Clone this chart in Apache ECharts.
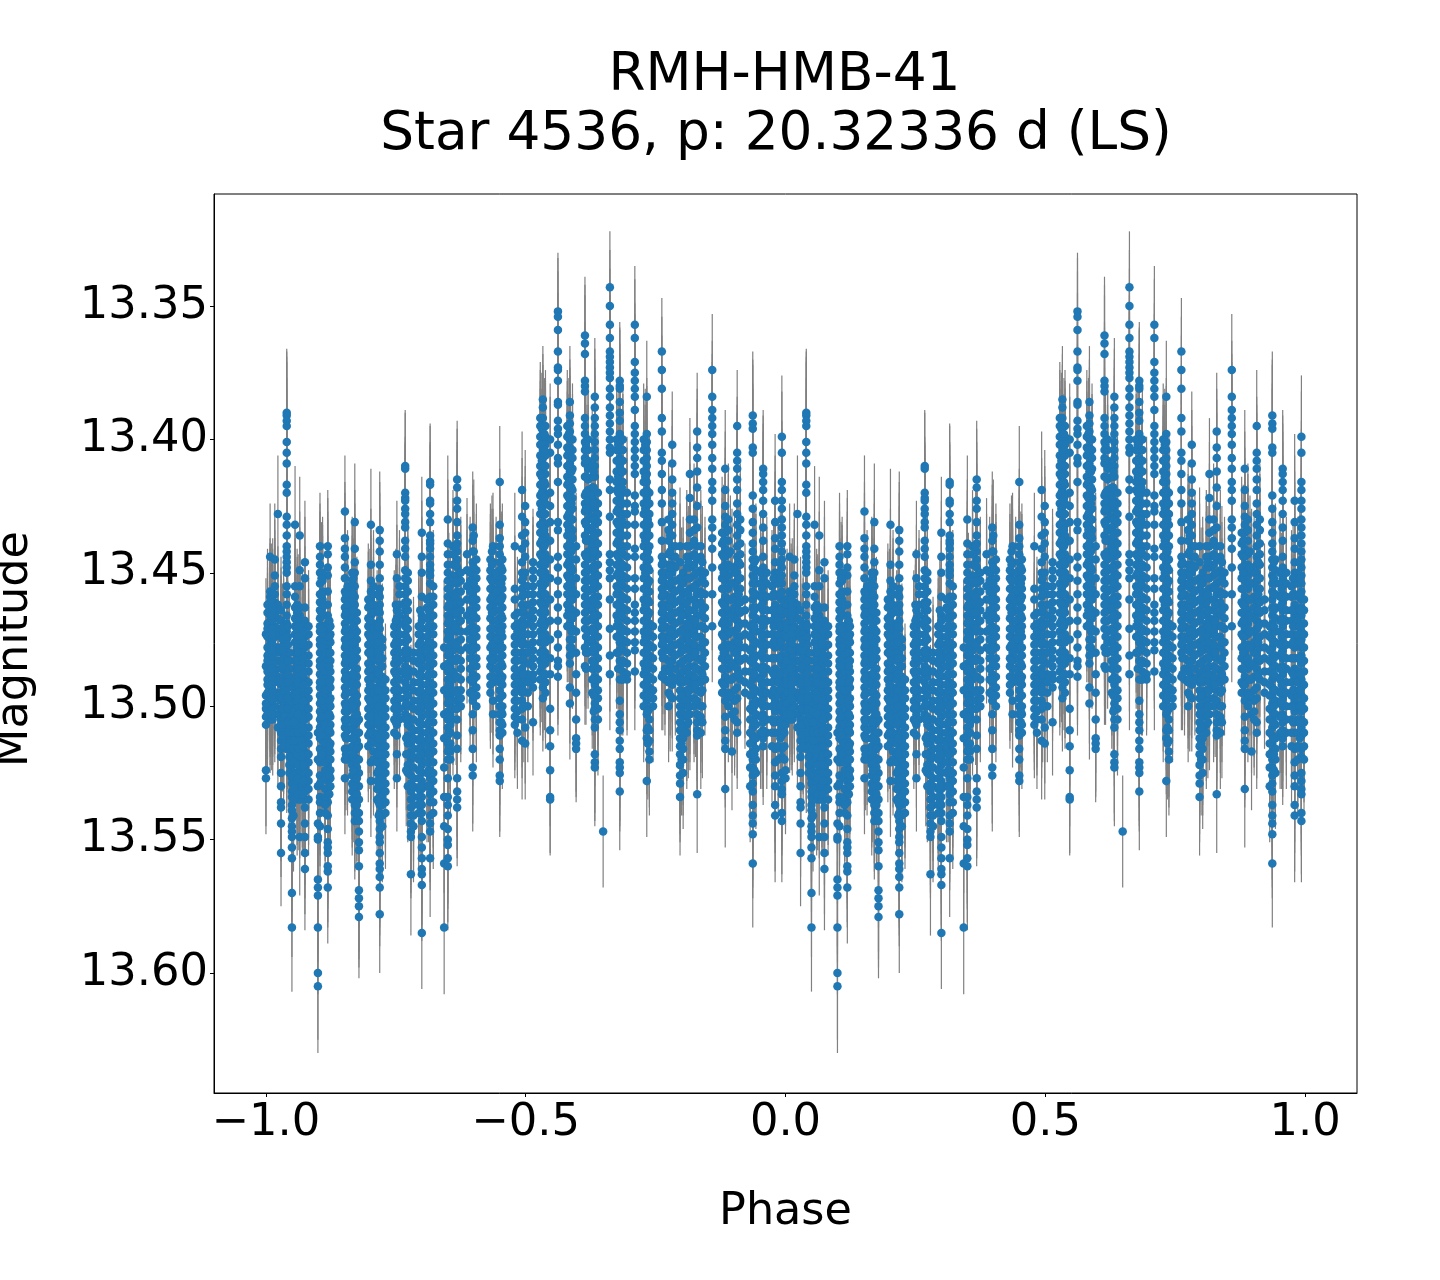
<!DOCTYPE html>
<html>
<head>
<meta charset="utf-8">
<style>html,body{margin:0;padding:0;background:#fff}#c{width:1440px;height:1280px}</style>
<script src="https://cdn.jsdelivr.net/npm/echarts@6/dist/echarts.min.js"></script>
</head>
<body>
<div id="c"></div>
<script>
// Values. Magnitudes are in thousandths above 13 (e.g. 473 = 13.473).
// The figure shows two folded cycles, so phase p and p + 1 carry the same measurement.
const titleLine1 = "RMH-HMB-41";
const titleLine2 = "Star 4536, p: 20.32336 d (LS)";
const xTickValues = [-1, -0.5, 0, 0.5, 1];
const yTickValues = [13.35, 13.40, 13.45, 13.50, 13.55, 13.60];

const streakPhases = [-1.000,-0.992,-0.983,-0.977,-0.971,-0.960,-0.950,-0.944,-0.935,-0.925,-0.900,-0.896,-0.881,-0.848,-0.829,-0.821,-0.798,-0.781,-0.748,-0.732,-0.721,-0.700,-0.684,-0.657,-0.650,-0.632,-0.613,-0.602,-0.563,-0.550,-0.521,-0.507,-0.501,-0.486,-0.467,-0.453,-0.438,-0.415,-0.403,-0.386,-0.367,-0.351,-0.338,-0.319,-0.290,-0.267,-0.238,-0.218,-0.203,-0.184,-0.170,-0.141,-0.116,-0.103,-0.093,-0.063,-0.043,-0.020,-0.007];
const streakErrors = [21,20,21,22,20,24,24,22,22,23,25,20,21,21,22,23,21,22,20,21,23,21,22,25,24,22,21,21,20,21,20,22,21,20,20,21,22,21,20,22,22,21,21,22,22,21,20,20,22,21,22,21,22,22,21,24,22,25,23];

const m001 = [473,485,496,499,501,504,507,524,527];
const m002 = [444,457,459,461,463,466,468,470,473,475,477,480,482,485,487,489,492,494,497,499,502,505];
const m003 = [445,451,455,458,461,464,466,470,472,474,478,480,483,486,488,491,495,497,500];
const m004 = [428,462,467,473,478,483,489,495,503,508];
const m005 = [464,468,471,474,478,480,483,486,490,492,495,498,501,505,507,510,513,516,519,525,530,536,538,544,555];
const m006 = [390,391,393,395,401,405,409,417,420,429,432,436,440,442,444,446,448,450,455,458,462,466,469,472,475,479,481,484,488,490,493,496,500,502,505,508,511,514,516];
const m007 = [500,504,508,511,514,517,519,522,524,527,529,532,534,537,539,542,545,547,549,553,557,570,583];
const m008 = [432,455,459,463,467,470,473,476,480,483,486,489,492,495,498];
const m009 = [436,449,455,463,466,469,472,476,478,481,484,488,490,493,496,499,502,505,509,511,514,517,520,524,526,529,532,535,549];
const m010 = [446,452,463,468,474,478,481,484,487,490,494,496,499,502,505,508,512,514,517,520,523,527,529,532,535,538,544,549,555,561];
const m011 = [510,520,530,544,549,550,565,568,571,583,600,605];
const m012 = [440,444,447,450,454,458,461,464,467,470,472,475,477,480,483,485,488,491,493,496,499,502,505,508,512,516,521,526,529,534,536,540,545];
const m013 = [440,443,448,451,457,462,466,469,472,475,478,481,484,486,489,492,495,498,501,504,507,510,513,516,519,522,525,528,532,536,541,546,551,553,555,560,562,568];
const m014 = [427,437,441,444,448,452,457,460,463,466,469,472,475,478,481,484,487,490,493,496,499,502,505,508,511,516,520,527];
const m015 = [431,441,446,450,455,459,462,465,468,471,474,477,480,483,486,489,492,495,498,501,504,507,510,513,516,519,522,525,528,531,534,537,540,543];
const m016 = [505,510,515,520,525,530,535,540,543,547,551,554,560,569,572,575,579];
const m017 = [432,447,453,457,460,463,466,469,472,475,478,481,484,487,490,493,496,499,502,505,508,514,521,528];
const m018 = [434,438,442,447,452,456,459,462,465,468,471,474,477,480,483,486,489,492,495,498,501,504,507,510,513,516,519,522,525,528,531,534,537,540,543,546,549,551,555,559,561,564,568,578];
const m019 = [443,452,464,467,471,475,478,481,484,487,490,493,496,499,503,507,511,518,527];
const m020 = [410,411,420,422,423,426,428,431,433,438,441,444,449,452,455,458,461,464,467,470,473,476,479,482,485,488,491,494,497,500,503];
const m021 = [500,505,508,511,514,517,520,523,526,529,532,535,538,541,544,547,549,563];
const m022 = [435,444,450,459,466,468,471,474,477,480,483,486,489,492,495,498,501,504,507,510,513,516,519,522,525,528,531,534,537,540,543,549,553,557,561,563,567,585];
const m023 = [416,417,423,424,428,431,436,438,439,441,444,447,449,451,454,459,463,467,470,473,476,479,482,485,488,491,494,497,500,503,506,509,512,515,518,521,524,527,530,533,536,541,544,547,557];
const m024 = [478,485,494,503,512,523,534,545,559,583];
const m025 = [430,439,443,447,450,453,456,459,463,466,469,472,475,478,481,484,487,490,493,496,499,502,505,508,511,514,517,520,527,534,537,541,546,550,552,557,560];
const m026 = [415,418,423,426,431,436,439,442,445,448,451,454,457,460,463,466,469,472,476,482,489,494,498,501,505,511,516,527,532,535,538];
const m027 = [443,449,455,460,466,472,478];
const m028 = [433,438,442,446,449,452,455,458,461,464,467,470,473,476,479,482,485,488,491,494,496,498,503,509,516,523,526];
const m029 = [440,446,450,453,456,459,462,465,468,471,474,477,480,483,486,489,491,498,503];
const m030 = [416,432,437,440,443,446,449,452,455,458,461,464,467,470,473,476,479,482,485,488,491,494,497,500,503,506,509,511,516,520,526,528];
const m031 = [440,456,460,466,470,474,477,480,483,486,489,492,495,498,501,504,507];
const m032 = [419,429,436,441,446,450,453,456,459,462,465,468,471,474,477,480,483,486,489,492,495,498,501,505,513];
const m033 = [425,431,435,439,444,450,455,480,490,500,508,514];
const m034 = [446,449,452,455,458,461,464,467,470,473,476,479,482,485,488,490,493,506];
const m035 = [385,388,392,395,398,401,404,407,410,413,416,419,422,425,428,431,434,437,440,443,446,449,452,455,458,461,464,467,470,473,476,479,482,490,493,497];
const m036 = [400,405,420,425,431,438,445,452,460,468,475,482,488,501,509,515,524,534,535];
const m037 = [352,354,359,367,373,374,378,386,387,393,396,398,402,407,409,416,431,434,444,448,453,458,463,468,473,478,483,485,489];
const m038 = [386,391,394,397,400,403,406,409,412,415,418,421,424,427,430,433,436,439,442,445,448,451,454,457,460,463,466,469,475,478,481,484,493,499];
const m039 = [440,445,452,458,465,472,480,488,495,505,512,514,516];
const m040 = [361,364,368,378,380,382,392,395,398,401,404,407,409,414,421,424,427,431,436,443,447,450,453,456,459,462,465,468,471,478,485];
const m041 = [384,388,392,395,398,401,404,407,410,414,420,423,426,429,432,435,438,441,444,447,450,453,456,459,462,465,468,471,474,477,480,483,486,489,492,495,499,501,505,508,518,521,523];
const m042 = [547];
const m043 = [343,350,357,362,367,369,371,373,375,377,381,384,388,391,394,397,400,403,405,415,419,429,443,446,449,452,460,471,481,488];
const m044 = [378,380,381,386,390,393,398,401,404,407,410,413,416,419,422,425,428,431,434,437,440,443,446,449,452,455,458,461,464,467,470,473,476,479,483,490,498,503,506,509,513,516,521,523,525,532];
const m045 = [357,362,371,375,378,381,384,389,395,398,401,404,407,410,413,421,425,427,432,441,444,452,456,462,465,468,472,476,479,487];
const m046 = [384,398,401,404,407,410,413,416,419,422,425,428,431,434,437,440,443,446,449,452,455,458,461,464,467,470,473,476,479,482,485,488,491,494,497,498,503,509,512,528];
const m047 = [367,374,381,392,397,405,408,413,419,424,431,438,444,447,450,453,456,459,462,465,468,471,474,477,480,489];
const m048 = [402,409,415,420,424,428,432,436,440,444,447,450,453,456,459,462,465,468,471,474,477,480,483,486,489,492,497];
const m049 = [440,446,452,456,460,464,468,472,476,480,484,488,491,494,497,500,503,506,509,512,515,518,522,526,529,534];
const m050 = [413,422,430,435,440,444,448,452,456,460,464,467,470,473,476,479,482,485,488,491,494,497,500,503];
const m051 = [397,403,407,412,418,425,433,440,445,450,454,458,462,466,470,474,478,482,486,490,494,498,503,506,509,511,533];
const m052 = [374,384,389,392,395,398,402,407,411,416,419,423,430,433,437,441,448,458,470];
const m053 = [411,419,425,429,432,435,438,441,444,447,450,453,456,459,462,465,468,471,474,477,480,483,486,489,492,495,498,504,509,513,516,531];
const m054 = [448,454,460,466,472,478,484,490,497,503,517];
const m055 = [395,405,408,411,415,419,424,428,432,436,440,444,447,450,453,456,459,462,465,468,471,474,477,480,483,486,493,497,506,510];
const m056 = [391,394,396,403,405,421,426,431,435,439,442,445,448,451,454,457,460,463,466,469,472,475,478,481,484,487,490,493,496,499,502,505,508,511,514,517,520,523,526,529,532,537,541,544,548,559];
const m057 = [411,413,416,419,423,428,433,438,444,448,452,455,458,461,464,467,470,473,476,479,482,485,488,491,494,497,500,503,506,509,512,515];
const m058 = [423,431,437,441,446,450,454,458,462,466,470,474,478,482,486,490,494,498,502,506,510,516,521,526,530,537,541];
const m059 = [399,405,416,419,423,426,430,433,436,439,442,445,448,451,454,457,460,463,466,469,472,475,478,481,484,487,490,493,496,499,502,505,508,511,516,519,525,528,531,533,540,543];

const streakValues = [m001,m002,m003,m004,m005,m006,m007,m008,m009,m010,m011,m012,m013,m014,m015,m016,m017,m018,m019,m020,m021,m022,m023,m024,m025,m026,m027,m028,m029,m030,m031,m032,m033,m034,m035,m036,m037,m038,m039,m040,m041,m042,m043,m044,m045,m046,m047,m048,m049,m050,m051,m052,m053,m054,m055,m056,m057,m058,m059];

// Denser points between the main streaks, estimated from the filled bands of the picture.
const bandPhases = [-0.997,-0.987,-0.966,-0.955,-0.940,-0.930,-0.918,-0.891,-0.886,-0.876,-0.843,-0.834,-0.825,-0.803,-0.793,-0.786,-0.776,-0.770,-0.753,-0.743,-0.727,-0.716,-0.706,-0.690,-0.678,-0.645,-0.640,-0.625,-0.607,-0.595,-0.568,-0.557,-0.545,-0.516,-0.496,-0.472,-0.462,-0.420,-0.410,-0.380,-0.372,-0.361,-0.325,-0.313,-0.305,-0.273,-0.262,-0.255,-0.232,-0.225,-0.212,-0.197,-0.190,-0.176,-0.163,-0.155,-0.122,-0.110,-0.098,-0.087,-0.078,-0.068,-0.057,-0.048,-0.036,-0.026,-0.014,-0.002];
const bandError = [21];
const b01 = [462,465,469,471,474,478,481,483,487,490,492,495,499,503];
const b02 = [458,462,464,468,471,475,477,481,484,488,490,494,498,501,505];
const b03 = [470,473,477,480,482,486,489,493,495,499,502,505,509,512,515];
const b04 = [480,483,486,490,493,496,499,503,506,509,512,515,519,522,525];
const b05 = [462,465,468,472,475,478,482,485,488,492,495,498,501,505,508,511,515,518,521,525,528,531,535];
const b06 = [470,474,477,480,484,487,490,493,497,500,503,507,510,513,517,520,523,526,530,532,535];
const b07 = [470,473,477,481,484,487,491,494,497,501,504,508,511,514,518,521,525,528,531,535];
const b08 = [450,453,457,460,463,466,470,473,476,480,483,486,489,493,496,499,503,506,509,513,516,520];
const b09 = [470,473,477,480,484,487,490,494,497,500,504,507,511,514,517,521,524,527,531,534,537,540];
const b10 = [470,473,476,480,483,487,490,493,497,500,504,507,510,514,517,520,524,527,530];
const b11 = [455,458,462,465,468,472,475,479,482,485,489,492,495,499,502,505,509,512,516,520];
const b12 = [450,453,457,460,464,467,471,474,478,481,484,488,491,495,498,501,505,508,512,515,519,522,526,529,532,535];
const b13 = [465,468,472,475,479,482,486,489,492,496,499,503,506,510,513,516,520,523,527,530,533,537,540];
const b14 = [460,463,467,470,473,477,480,484,487,490,494,497,501,504,507,511,515];
const b15 = [455,458,462,465,469,472,475,479,482,486,489,493,496,499,503,506,510,513,517,520];
const b16 = [470,473,477,480,483,487,490,494,497,501,504,507,511,514,518,521,525,528,531,535];
const b17 = [475,478,482,485,489,492,496,499,503,506,510,513,516,520,523,527,530,534,537,541,545];
const b18 = [490,494,497,501,504,508,511,515,518,522,525,529,532,536,540];
const b19 = [470,473,477,480,484,487,491,494,498,501,505,510];
const b20 = [455,458,462,466,469,473,476,480,483,487,490,494,497,501,505];
const b21 = [450,453,457,461,464,468,471,475,479,482,486,489,493,496,500,504,507,511,514,518,522,525,530];
const b22 = [480,483,487,491,494,498,501,505,509,512,516,519,523,527,530,534,537,541,545];
const b23 = [470,473,477,480,484,488,491,495,498,502,506,509,513,516,520,524,527,531,534,537,540];
const b24 = [460,463,467,471,474,478,481,485,489,492,496,499,503,507,510,514,517,521,525,530];
const b25 = [455,459,462,466,470,473,477,481,484,488,492,495,499,503,506,510,514,517,521,525,528,532,536,540];
const b26 = [460,463,467,470,474,478,481,485,489,492,496,499,503,507,510,514,517,520];
const b27 = [440,443,447,451,454,458,461,465,469,472,476,479,483,487,490,494,498,501,505];
const b28 = [450,453,457,461,464,468,472,475,479,483,486,490,494,497,500];
const b29 = [450,453,457,460,464,468,471,475,479,482,486,490,495];
const b30 = [445,449,452,456,460,463,467,471,474,478,482,485,489,493,496,500];
const b31 = [445,449,452,456,460,463,467,471,474,478,482,485,489,492,495];
const b32 = [450,453,457,460,464,468,471,475,478,482,486,490];
const b33 = [445,449,452,456,459,463,467,470,474,478,481,485,489,492,496,500,503,507,510];
const b34 = [465,469,472,476,480,483,487,491,494,498,502,505,510];
const b35 = [455,458,462,466,469,473,477,480,484,488,491,495,500];
const b36 = [392,395,399,402,406,410,413,417,421,424,428,432,435,439,443,447,450,454,458,461,465,469,472,476,480,483,487,490];
const b37 = [395,399,402,406,410,413,417,421,424,428,432,436,439,443,447,450,454,458,462,465,469,473,476,480,484,488,491,495];
const b38 = [395,399,403,406,410,414,417,421,425,429,432,436,440,443,447,451,455,458,462,466,470];
const b39 = [400,404,407,411,415,419,422,426,430,434,437,441,445,449,452,456,460,464,467,471,475,480];
const b40 = [400,404,408,411,415,419,423,427,430,434,438,442,445,449,453,457,461,464,468,472,476,480];
const b41 = [410,414,418,421,425,429,433,437,440,444,448,452,456,460,463,467,471,475,479,483,486,490,495];
const b42 = [420,424,428,431,435,439,443,447,451,455,459,462,466,470,474,478,482,486,490,494,497,501,505];
const b43 = [400,404,408,412,416,419,423,427,431,435,439,443,447,451,455,458,462,466,470,474,480];
const b44 = [400,404,408,412,416,420,424,428,432,436,440,443,447,451,455,459,463,467,471,475,479,483,487,490];
const b45 = [420,424,428,432,436,440,444,448,452,456,460,464,468,472,476,480,484,488,490];
const b46 = [400,404,408,412,416,420,424,428,432,436,440,444,448,452,456,460,464,468,472,476,480,484,488,492,496,500];
const b47 = [420,424,428,432,436,440,445,449,453,457,461,465,469,473,477,481,485,489,493,497,501,505,509,513,517,520];
const b48 = [470,474,478,482,486,490,494,497,500];
const b49 = [450,454,458,462,466,470,474,478,482,486,490];
const b50 = [430,434,438,443,447,451,455,459,463,467,471,475,479,483,487,491,495,500];
const b51 = [440,444,448,453,457,461,465,469,473,477,481,486,490];
const b52 = [450,454,458,462,466,471,475,479,483,487,491,496,500,504,508,512,516,520,525];
const b53 = [440,444,448,452,457,461,465,469,473,478,482,486,490,494,498,503,507,510];
const b54 = [430,434,438,443,447,451,455,460,464,468,472,477,481,485,489,493,497,500];
const b55 = [440,444,449,453,457,461,466,470,474,478,483,487,491,495,500,504,510];
const b56 = [450,454,458,463,467,471,476,480,485,490];
const b57 = [435,439,443,448,452,456,461,465,469,473,478,482,486,491,495];
const b58 = [430,434,438,443,447,451,456,460,464,469,473,477,482,486,490,495,500];
const b59 = [450,454,459,463,467,472,476,480,485,489,494,498,502,505];
const b60 = [430,434,439,443,447,452,456,461,465,469,474,478,483,490];
const b61 = [460,464,469,473,478,482,487,491,495];
const b62 = [470,474,479,483,487,492,496,501,505,510,514,518,523,530];
const b63 = [445,449,454,458,463,467,472,476,481,485,489,494,498,503,507,512,516,520,525];
const b64 = [450,454,459,463,468,472,477,481,486,490,495,499,504,510];
const b65 = [450,454,459,464,468,473,477,482,486,491,495,500,505,510];
const b66 = [455,459,464,468,473,477,482,487,491,496,500,505,510,515];
const b67 = [450,454,459,464,468,473,477,482,487,491,496,500,505,510,515,520];
const b68 = [460,464,469,473,478,483,487,492,497,501,506,510,515,520];

const bandValues = [b01,b02,b03,b04,b05,b06,b07,b08,b09,b10,b11,b12,b13,b14,b15,b16,b17,b18,b19,b20,b21,b22,b23,b24,b25,b26,b27,b28,b29,b30,b31,b32,b33,b34,b35,b36,b37,b38,b39,b40,b41,b42,b43,b44,b45,b46,b47,b48,b49,b50,b51,b52,b53,b54,b55,b56,b57,b58,b59,b60,b61,b62,b63,b64,b65,b66,b67,b68];

// More estimated points in the solid parts of the streaks.
const corePhases = [-0.989,-0.968,-0.958,-0.947,-0.938,-0.928,-0.893,-0.878,-0.846,-0.832,-0.800,-0.783,-0.750,-0.730,-0.703,-0.687,-0.648,-0.634,-0.600,-0.565,-0.547,-0.505,-0.469,-0.464,-0.417,-0.412,-0.384,-0.369,-0.322,-0.315,-0.270,-0.265,-0.236,-0.222,-0.200,-0.187,-0.173,-0.160,-0.119,-0.106,-0.090,-0.060,-0.045,-0.023,-0.010];
const c01 = [460,466,473,479,486,492,497,503];
const c02 = [475,479,485,491,497,501,507,511];
const c03 = [470,474,477,483,488,491,497,501,506,510];
const c04 = [502,506,510,513,516,521,526,531,535,541];
const c05 = [464,470,474,480,486,491,497,503,510,516,522,527,533];
const c06 = [472,476,482,488,492,498,505,509,515,522,528,533];
const c07 = [452,458,465,471,478,485,491,498,504,511,518];
const c08 = [468,474,480,485,491,498,503,509,515,520,526,533];
const c09 = [458,465,471,477,483,489,495,500,506,512,518];
const c10 = [452,458,464,470,476,482,488,494,500,506,512,518,524,530];
const c11 = [462,468,474,480,486,492,498,504,510];
const c12 = [458,464,470,476,482,488,494,500,506,512,518,524,530,536,541];
const c13 = [462,468,476,482,488,494,500,506];
const c14 = [462,468,474,480,487,493,499,505,512,518,524];
const c15 = [464,470,476,482,488,494,500,506,512,518,524,530,536];
const c16 = [464,470,476,482,488,494,500,506,512,518,524,530];
const c17 = [456,462,468,474,480,486,492,498,504,510,516];
const c18 = [440,447,453,459,465,471,477,483,489,495,501];
const c19 = [436,442,448,454,460,466,472,478,484,490,496];
const c20 = [442,447,453,459,465,471,477,483,489];
const c21 = [448,454,460,466,472,478,484,490,496,502,506];
const c22 = [452,458,464,470,476,482,488,494,500];
const c23 = [396,402,408,414,420,426,432,438,444,450,456,462,468,474,480,485];
const c24 = [398,404,410,416,422,428,434,440,446,452,458,464,470,476,482,488];
const c25 = [398,404,410,416,422,428,434,440,446,452,458,464,470];
const c26 = [412,418,424,430,436,442,448,454,460,466,472,478];
const c27 = [402,408,414,420,426,432,438,444,450,456,462,468,474,480,486];
const c28 = [412,418,424,430,436,442,448,454,460,466,472,478,484,490,496,502];
const c29 = [402,408,414,420,426,432,438,444,450,456,462,468,474,480,486];
const c30 = [412,418,424,430,436,442,448,454,460,466,472,478,484,490];
const c31 = [402,408,414,420,426,432,438,444,450,456,462,468,474,480,486,492];
const c32 = [424,430,436,442,448,454,460,466,472,478,484,490,496,502,508,514];
const c33 = [446,452,458,464,470,476,482,488];
const c34 = [436,442,448,454,460,466,472,478,484,490,496];
const c35 = [454,460,466,472,478,484,490,496,502,508,514,520];
const c36 = [446,452,458,464,470,476,482,488,494,500,506];
const c37 = [444,450,456,462,468,474,480,486,492,498];
const c38 = [446,452,458,464,470,476,482,488,494,500,506];
const c39 = [438,444,450,456,462,468,474,480,486,492];
const c40 = [442,448,454,460,466,472,478,484,490,496];
const c41 = [446,452,458,464,470,476,482,488];
const c42 = [446,452,458,464,470,476,482,488,494,500,506,512,518,524];
const c43 = [456,462,468,474,480,486,492,498,504,510];
const c44 = [452,458,464,470,476,482,488,494,500,506];
const c45 = [446,452,458,464,470,476,482,488,494,500,506,512];

const coreValues = [c01,c02,c03,c04,c05,c06,c07,c08,c09,c10,c11,c12,c13,c14,c15,c16,c17,c18,c19,c20,c21,c22,c23,c24,c25,c26,c27,c28,c29,c30,c31,c32,c33,c34,c35,c36,c37,c38,c39,c40,c41,c42,c43,c44,c45];

const rows = [];
[0, 1].forEach(function (cycle) {
  streakValues.forEach(function (list, i) {
    list.forEach(function (m) {
      rows.push([streakPhases[i] + cycle, 13 + m / 1000, streakErrors[i] / 1000]);
    });
  });
  bandValues.forEach(function (list, i) {
    list.forEach(function (m) {
      rows.push([bandPhases[i] + cycle, 13 + m / 1000, bandError[0] / 1000]);
    });
  });
  coreValues.forEach(function (list, i) {
    list.forEach(function (m) {
      rows.push([corePhases[i] + cycle, 13 + m / 1000, bandError[0] / 1000]);
    });
  });
});

const chart = echarts.init(document.getElementById('c'), null, { renderer: 'canvas' });
const font = '"DejaVu Sans"';
chart.setOption({
  animation: false,
  backgroundColor: '#ffffff',
  title: [
    { text: titleLine1, left: 779.5, top: 45, textAlign: 'center', textStyle: { fontFamily: font, fontSize: 53.3, fontWeight: 'normal', color: '#000' } },
    { text: titleLine2, left: 771, top: 104, textAlign: 'center', textStyle: { fontFamily: font, fontSize: 53.3, fontWeight: 'normal', color: '#000' } }
  ],
  grid: { left: 214, right: 83, top: 194, bottom: 187, show: true, borderColor: '#000', borderWidth: 1, backgroundColor: 'transparent', outerBoundsMode: 'none', containLabel: false },
  xAxis: {
    type: 'value', min: -1.1, max: 1.1, position: 'bottom',
    name: 'Phase', nameLocation: 'middle', nameGap: 97,
    nameTextStyle: { fontFamily: font, fontSize: 44.5, color: '#000' },
    splitLine: { show: false },
    axisLine: { onZero: false, lineStyle: { color: '#000', width: 1 } },
    axisTick: { length: 4, lineStyle: { color: '#000', width: 1 }, customValues: xTickValues },
    axisLabel: { fontFamily: font, fontSize: 44.8, color: '#000', margin: 8, customValues: xTickValues, hideOverlap: false,
      formatter: function (v) { return v.toFixed(1).replace('-', '\u2212'); } }
  },
  yAxis: {
    type: 'value', min: 13.308, max: 13.645, inverse: true, position: 'left',
    name: 'Magnitude', nameLocation: 'middle', nameGap: 176,
    nameTextStyle: { fontFamily: font, fontSize: 44.5, color: '#000', padding: [0, 11, 0, 0] },
    splitLine: { show: false },
    axisLine: { onZero: false, lineStyle: { color: '#000', width: 1 } },
    axisTick: { length: 4, lineStyle: { color: '#000', width: 1 }, customValues: yTickValues },
    axisLabel: { fontFamily: font, fontSize: 44.8, color: '#000', margin: 6, padding: [3, 0, 0, 0], customValues: yTickValues,
      formatter: function (v) { return v.toFixed(2); } }
  },
  series: [
    {
      type: 'custom', name: 'Error', clip: true, z: 2, silent: true,
      data: rows,
      encode: { x: 0, y: 1 },
      renderItem: function (params, api) {
        const p = api.value(0), m = api.value(1), e = api.value(2);
        const a = api.coord([p, m - e]), b = api.coord([p, m + e]);
        return { type: 'line', shape: { x1: a[0], y1: a[1], x2: b[0], y2: b[1] }, style: { stroke: '#808080', lineWidth: 1.2 } };
      }
    },
    {
      type: 'scatter', name: 'Magnitude', z: 3, silent: true,
      data: rows, encode: { x: 0, y: 1 },
      symbol: 'circle', symbolSize: 8.5,
      itemStyle: { color: '#1f77b4', opacity: 1 }, large: false
    }
  ]
});
</script>
</body>
</html>
